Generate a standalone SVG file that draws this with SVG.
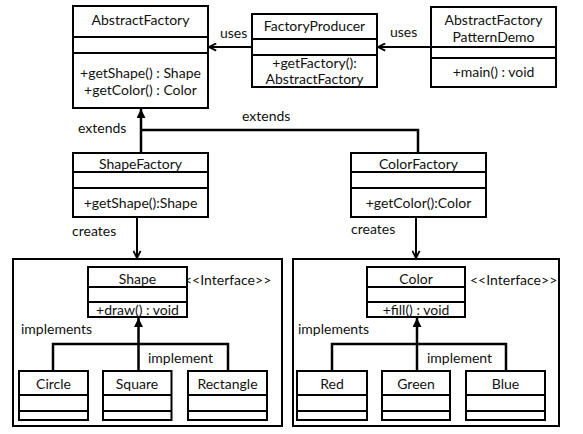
<svg xmlns="http://www.w3.org/2000/svg" width="583" height="434" viewBox="0 0 583 434">
<style>
.box{fill:#fff;stroke:#000;stroke-width:2}
.div{stroke:#000;stroke-width:2;fill:none}
.t{font-family:Lato,"Liberation Sans",sans-serif;font-size:14px;fill:#111;text-anchor:middle}
.s{text-anchor:start}
.con{fill:none;stroke:#000;stroke-width:2}
.inh{fill:none;stroke:#000;stroke-width:2.5}
</style>
<defs>
<marker id="open" viewBox="0 0 10 10" refX="9" refY="5" markerWidth="9" markerHeight="9" markerUnits="userSpaceOnUse" orient="auto">
<path d="M1,1 L9,5 L1,9" fill="none" stroke="#000" stroke-width="2"/>
</marker>
<marker id="fill" viewBox="0 0 10 10" refX="10" refY="5" markerWidth="9" markerHeight="9" markerUnits="userSpaceOnUse" orient="auto">
<path d="M0,0 L10,5 L0,10 z" fill="#000"/>
</marker>
</defs>
<rect x="0" y="0" width="583" height="434" fill="#fff"/>

<g id="containers">
<rect class="box" x="13" y="259" width="269" height="167"/>
<rect class="box" x="293" y="259" width="266" height="167"/>
</g>

<g id="connectors">
<line class="con" x1="431" y1="47" x2="378" y2="47" marker-end="url(#open)"/>
<line class="con" x1="252" y1="47" x2="209" y2="47" marker-end="url(#open)"/>
<path class="inh" d="M141,152 V109" marker-end="url(#fill)"/>
<path class="inh" d="M141,130 H418 V152"/>
<line class="con" x1="137" y1="217" x2="137" y2="258" stroke-width="1.5" marker-end="url(#open)"/>
<line class="con" x1="416" y1="217" x2="416" y2="258" stroke-width="1.5" marker-end="url(#open)"/>
<path class="inh" d="M138.5,370 V318" marker-end="url(#fill)"/>
<path class="inh" d="M53,370 V344 H228 V370"/>
<path class="inh" d="M417,370 V318" marker-end="url(#fill)"/>
<path class="inh" d="M332,370 V344 H506 V370"/>
<text class="t s" x="220" y="38">uses</text>
<text class="t s" x="390" y="37">uses</text>
<text class="t s" x="78" y="133">extends</text>
<text class="t s" x="242" y="121">extends</text>
<text class="t s" x="72" y="236">creates</text>
<text class="t s" x="351" y="234">creates</text>
<text class="t s" x="21" y="334">implements</text>
<text class="t s" x="148" y="363">implement</text>
<text class="t s" x="298" y="334">implements</text>
<text class="t s" x="427" y="363">implement</text>
</g>

<g id="AbstractFactory">
<rect class="box" x="73" y="6" width="135" height="102"/>
<path class="div" d="M73,37 H208 M73,53 H208"/>
<text class="t" x="140.5" y="25">AbstractFactory</text>
<text class="t" x="140.5" y="78">+getShape() : Shape</text>
<text class="t" x="140.5" y="95">+getColor() : Color</text>
</g>

<g id="FactoryProducer">
<rect class="box" x="252" y="14" width="125" height="73"/>
<path class="div" d="M252,39 H377 M252,55 H377"/>
<text class="t" x="314.5" y="31">FactoryProducer</text>
<text class="t" x="314.5" y="68">+getFactory():</text>
<text class="t" x="314.5" y="84">AbstractFactory</text>
</g>

<g id="AbstractFactoryPatternDemo">
<rect class="box" x="431" y="7" width="125" height="80"/>
<path class="div" d="M431,47 H556" stroke-width="3"/>
<path class="div" d="M431,58 H556"/>
<text class="t" x="493.5" y="25">AbstractFactory</text>
<text class="t" x="493.5" y="42">PatternDemo</text>
<text class="t" x="493.5" y="77">+main() : void</text>
</g>

<g id="ShapeFactory">
<rect class="box" x="73" y="153" width="135" height="64"/>
<path class="div" d="M73,172 H208 M73,188 H208"/>
<text class="t" x="140.5" y="169">ShapeFactory</text>
<text class="t" x="140.5" y="208">+getShape():Shape</text>
</g>

<g id="ColorFactory">
<rect class="box" x="351" y="153" width="135" height="64"/>
<path class="div" d="M351,172 H486 M351,188 H486"/>
<text class="t" x="418.5" y="169">ColorFactory</text>
<text class="t" x="418.5" y="208">+getColor():Color</text>
</g>

<g id="Shape">
<text class="t s" x="184" y="285">&lt;&lt;Interface&gt;&gt;</text>
<rect class="box" x="88" y="267" width="99" height="50"/>
<path class="div" d="M88,287 H187 M88,302 H187"/>
<text class="t" x="137.5" y="284">Shape</text>
<text class="t" x="137.5" y="315">+draw() : void</text>
</g>

<g id="Circle">
<rect class="box" x="19" y="371" width="69" height="49"/>
<path class="div" d="M19,395 H88 M19,411 H88"/>
<text class="t" x="53.5" y="389">Circle</text>
</g>
<g id="Square">
<rect class="box" x="103" y="371" width="68.5" height="49"/>
<path class="div" d="M103,395 H171.5 M103,411 H171.5"/>
<text class="t" x="137" y="389">Square</text>
</g>
<g id="Rectangle">
<rect class="box" x="188" y="371" width="79" height="49"/>
<path class="div" d="M188,395 H267 M188,411 H267"/>
<text class="t" x="227.5" y="389">Rectangle</text>
</g>

<g id="Color">
<text class="t s" x="470" y="285">&lt;&lt;Interface&gt;&gt;</text>
<rect class="box" x="367" y="267" width="98" height="50"/>
<path class="div" d="M367,287 H465 M367,302 H465"/>
<text class="t" x="416" y="284">Color</text>
<text class="t" x="416" y="315">+fill() : void</text>
</g>

<g id="Red">
<rect class="box" x="297" y="371" width="70" height="49"/>
<path class="div" d="M297,395 H367 M297,411 H367"/>
<text class="t" x="332" y="389">Red</text>
</g>
<g id="Green">
<rect class="box" x="382" y="371" width="68" height="49"/>
<path class="div" d="M382,395 H450 M382,411 H450"/>
<text class="t" x="416" y="389">Green</text>
</g>
<g id="Blue">
<rect class="box" x="466" y="371" width="79" height="49"/>
<path class="div" d="M466,395 H545 M466,411 H545"/>
<text class="t" x="505.5" y="389">Blue</text>
</g>
</svg>
